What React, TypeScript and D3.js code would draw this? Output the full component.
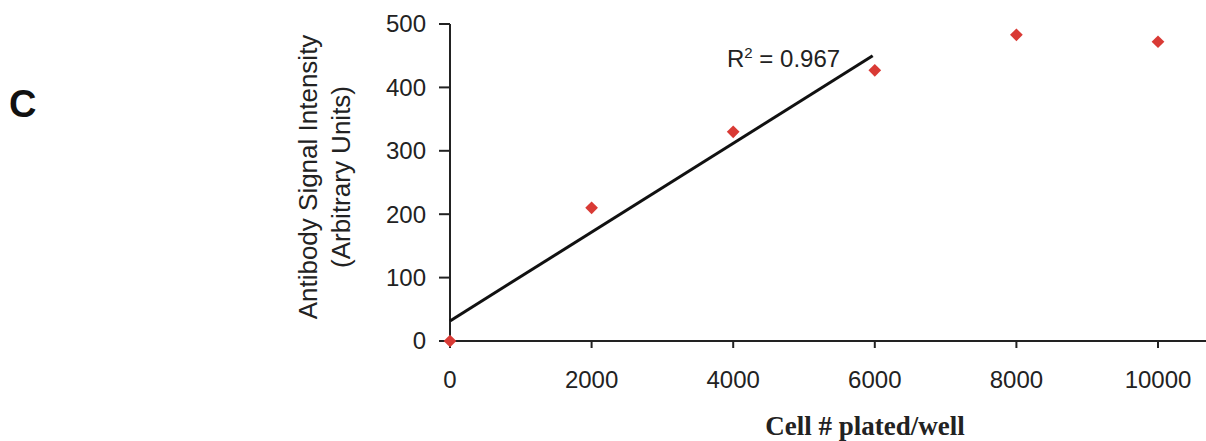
import React from "react";
import * as d3 from "d3";

const cells = [0, 2000, 4000, 6000, 8000, 10000];
const signal = [0, 210, 330, 427, 483, 472];
const fitCount = 4; // first four points used for the linear trendline
const xTicks = [0, 2000, 4000, 6000, 8000, 10000];
const yTicks = [0, 100, 200, 300, 400, 500];
const r2Label = "0.967";

export default function App() {
  const W = 1206, H = 441;
  const x = d3.scaleLinear().domain([0, 10000]).range([450, 1158]);
  const y = d3.scaleLinear().domain([0, 500]).range([341, 24]);

  const fx = cells.slice(0, fitCount);
  const fy = signal.slice(0, fitCount);
  const mx = d3.mean(fx)!;
  const my = d3.mean(fy)!;
  const sxy = d3.sum(fx.map((v, i) => (v - mx) * (fy[i] - my)));
  const sxx = d3.sum(fx.map((v) => (v - mx) ** 2));
  const slope = sxy / sxx;
  const intercept = my - slope * mx;
  const x0 = 0, x1 = 5970;
  const line = d3.line<number>().x((d) => x(d)).y((d) => y(intercept + slope * d));

  const diamond = d3.symbol().type(d3.symbolSquare).size(81)();
  const tickFont = "Liberation Sans, Arial, sans-serif";

  return (
    <svg
      width={W}
      height={H}
      style={{ position: "absolute", left: 0, top: 0, background: "#fff" }}
    >
      <text x={9} y={117} fontFamily={tickFont} fontWeight="bold" fontSize={38} fill="#111">
        C
      </text>

      {/* axes */}
      <line x1={450} x2={450} y1={y(500)} y2={y(0)} stroke="#222" strokeWidth={2} />
      <line x1={450} x2={1206} y1={y(0)} y2={y(0)} stroke="#222" strokeWidth={2} />

      {yTicks.map((t) => (
        <g key={"y" + t}>
          <line x1={439} x2={450} y1={y(t)} y2={y(t)} stroke="#222" strokeWidth={2} />
          <text
            x={426}
            y={y(t)}
            dy="0.35em"
            textAnchor="end"
            fontFamily={tickFont}
            fontSize={24}
            fill="#222"
          >
            {t}
          </text>
        </g>
      ))}
      {xTicks.map((t) => (
        <g key={"x" + t}>
          <line x1={x(t)} x2={x(t)} y1={y(0)} y2={y(0) + 7} stroke="#222" strokeWidth={2} />
          <text
            x={x(t)}
            y={388}
            textAnchor="middle"
            fontFamily={tickFont}
            fontSize={24}
            fill="#222"
          >
            {t}
          </text>
        </g>
      ))}

      {/* y title */}
      <g transform="translate(317,177) rotate(-90)">
        <text textAnchor="middle" fontFamily={tickFont} fontSize={26} fill="#222">
          Antibody Signal Intensity
        </text>
      </g>
      <g transform="translate(350,177) rotate(-90)">
        <text textAnchor="middle" fontFamily={tickFont} fontSize={26} fill="#222">
          (Arbitrary Units)
        </text>
      </g>

      {/* x title */}
      <text
        x={865}
        y={435}
        textAnchor="middle"
        fontFamily="Liberation Serif, Times New Roman, serif"
        fontWeight="bold"
        fontSize={27}
        fill="#222"
      >
        Cell # plated/well
      </text>

      {/* trendline */}
      <path d={line([x0, x1]) || ""} stroke="#111" strokeWidth={3} fill="none" />
      <text x={727} y={67} fontFamily={tickFont} fontSize={24} fill="#222">
        R<tspan dy={-9} fontSize={15}>2</tspan>
        <tspan dy={9}> = {r2Label}</tspan>
      </text>

      {/* points */}
      {cells.map((c, i) => (
        <path
          key={"p" + i}
          d={diamond || ""}
          transform={`translate(${x(c)},${y(signal[i])}) rotate(45)`}
          fill="#d93a35"
        />
      ))}
    </svg>
  );
}
